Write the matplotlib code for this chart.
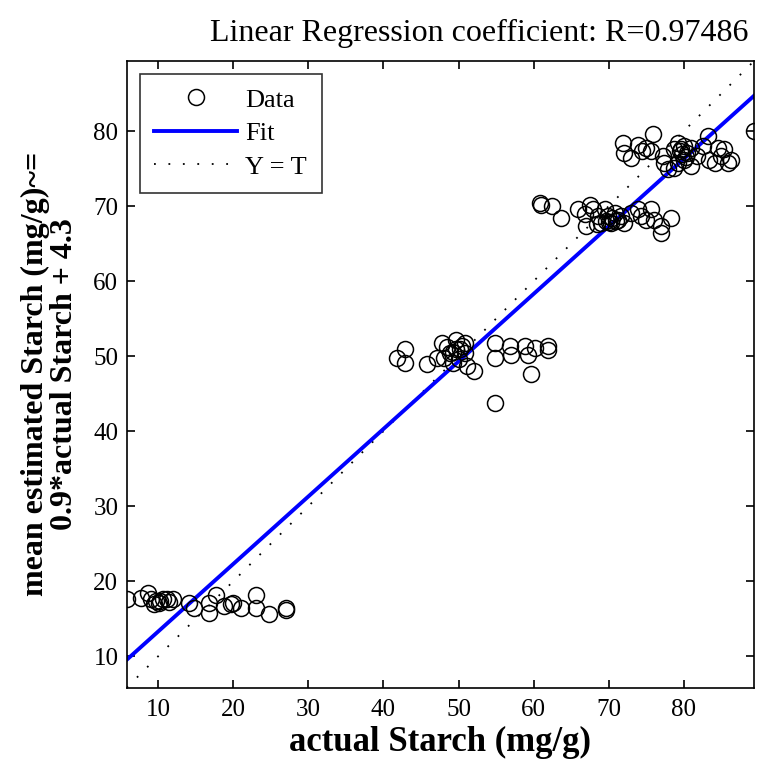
import matplotlib
matplotlib.use("Agg")
import matplotlib.pyplot as plt
import numpy as np

# Data (actual vs. estimated starch, mg/g)
target = [5.8, 7.7, 8.7, 9.0, 9.5, 9.7, 10.1, 10.3, 10.7, 11.2, 11.5, 12.0, 14.1, 14.8,
          16.8, 16.8, 17.7, 18.8, 19.7, 20.0, 21.0, 23.0, 23.0, 24.7, 27.0, 27.0,
          41.8, 42.9, 42.9, 45.8, 47.1, 47.8, 48.0, 48.9, 49.7, 49.7, 50.0, 50.4, 50.9,
          50.9, 49.3, 51.1, 52.0, 54.8, 54.8, 56.8, 57.0, 58.8, 59.3, 60.2, 61.9, 61.9,
          59.7, 54.8, 49.2, 50.2, 48.5,
          60.8, 61.0, 62.4, 63.7, 65.9, 66.8, 67.0, 67.5, 67.9, 68.4, 68.6, 69.0, 69.5,
          69.9, 70.3, 70.8, 71.2, 71.7, 72.1, 73.0, 73.9, 74.3, 75.0, 75.6, 76.1, 77.0,
          77.0, 78.3, 69.6, 70.5, 70.0, 71.0,
          71.9, 72.1, 73.0, 73.9, 74.5, 75.0, 75.9, 75.6, 77.2, 77.4, 77.9, 78.7, 79.2,
          79.6, 80.1, 80.5, 81.0, 80.1, 79.2, 78.7, 81.0, 81.8, 82.5, 83.2, 83.4, 84.1,
          84.5, 85.0, 85.4, 85.9, 86.3, 89.4, 79.8, 80.3, 79.5]
estimated = [17.6, 17.8, 18.4, 17.6, 17.0, 17.3, 17.1, 17.4, 17.6, 17.6, 17.2, 17.6, 17.1, 16.4,
             15.8, 17.1, 18.2, 16.7, 16.9, 17.1, 16.4, 18.2, 16.4, 15.6, 16.4, 16.2,
             49.8, 50.9, 49.1, 48.9, 49.8, 51.8, 49.8, 50.4, 52.2, 50.9, 49.6, 51.3, 50.4,
             51.8, 49.1, 48.7, 48.0, 51.8, 49.8, 51.3, 50.2, 51.3, 50.2, 51.1, 51.3, 50.8,
             47.6, 43.8, 50.5, 51.0, 51.2,
             70.4, 70.2, 70.0, 68.4, 69.6, 68.9, 67.3, 70.2, 69.6, 67.6, 68.7, 67.8, 69.6,
             68.7, 67.8, 69.1, 68.2, 68.7, 67.8, 69.1, 69.6, 68.7, 68.2, 69.6, 68.2, 67.3,
             66.4, 68.4, 68.0, 68.4, 67.9, 68.0,
             78.4, 77.1, 76.4, 78.2, 77.3, 77.8, 79.6, 77.3, 76.7, 75.8, 74.9, 77.6, 78.4,
             77.6, 78.0, 77.1, 77.8, 76.2, 75.8, 75.1, 75.3, 76.7, 78.0, 79.3, 76.2, 75.8,
             77.8, 76.7, 77.6, 75.8, 76.2, 80.0, 77.0, 76.5, 77.4]

slope = 0.9
intercept = 4.3
r_value = 0.97486

title_text = "Linear Regression coefficient: R=0.97486"
xlabel_text = "actual Starch (mg/g)"
ylabel_text = "mean estimated Starch (mg/g)~=\n0.9*actual Starch + 4.3"
xticks = [10, 20, 30, 40, 50, 60, 70, 80]
yticks = [10, 20, 30, 40, 50, 60, 70, 80]

plt.rcParams['font.family'] = ['Liberation Serif', 'DejaVu Serif']

fig = plt.figure(figsize=(7.62, 7.69), dpi=100)
ax = fig.add_axes([126.7 / 762, 1 - 687.7 / 769, (754.3 - 126.7) / 762, (687.7 - 60.7) / 769])

t = np.array(target)
y = np.array(estimated)
lo = min(t.min(), y.min())
hi = max(t.max(), y.max())

ax.plot(t, y, linestyle='none', marker='o', markersize=11.5, markerfacecolor='none',
        markeredgecolor='black', markeredgewidth=1.1, label='Data', zorder=3)
xx = np.array([lo, hi])
ax.plot(xx, slope * xx + intercept, color=(0, 0, 1), linewidth=2.8, label='Fit', zorder=2)
ax.plot(xx, xx, color='black', linestyle=(0, (1, 7)), linewidth=1.3, label='Y = T', zorder=1)

ax.set_xlim(lo, hi)
ax.set_ylim(lo, hi)
ax.set_xticks(xticks)
ax.set_yticks(yticks)
ax.tick_params(direction='in', top=True, right=True, length=6, width=1.2, labelsize=18)
ax.tick_params(axis='x', pad=8)
ax.tick_params(axis='y', pad=6)
for s in ax.spines.values():
    s.set_linewidth(1.2)

fig.text(479 / 762, 1 - 41 / 769, title_text, fontsize=23, ha='center', va='baseline')
ax.set_xlabel(xlabel_text, fontsize=25, fontweight='bold', labelpad=4)
ax.set_ylabel(ylabel_text, fontsize=23, fontweight='bold', labelpad=10, linespacing=1.0)

leg = ax.legend(loc='upper left', bbox_to_anchor=(13 / 628, 1 - 13 / 627), fontsize=19,
                frameon=True, fancybox=False, edgecolor='black', handlelength=3.15,
                borderpad=0.55, labelspacing=0.38, handletextpad=0.3, borderaxespad=0)
leg.get_frame().set_linewidth(1.2)

fig.savefig("out.png", dpi=100)
